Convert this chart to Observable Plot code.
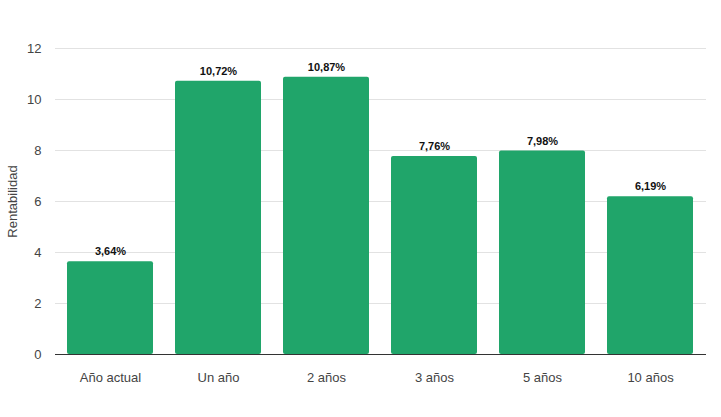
<!DOCTYPE html>
<html>
<head>
<meta charset="utf-8">
<script src="https://cdn.jsdelivr.net/npm/d3@7"></script>
<script src="https://cdn.jsdelivr.net/npm/@observablehq/plot@0.6"></script>
<style>
  html, body { margin: 0; padding: 0; background: #fff; }
  #chart svg { display: block; }
</style>
</head>
<body>
<div id="chart"></div>
<script>
const categories = ["Año actual", "Un año", "2 años", "3 años", "5 años", "10 años"];
const values = [3.64, 10.72, 10.87, 7.76, 7.98, 6.19];
const valueLabels = ["3,64%", "10,72%", "10,87%", "7,76%", "7,98%", "6,19%"];
const yTicks = [0, 2, 4, 6, 8, 10, 12];
const yTitle = "Rentabilidad";

const data = categories.map((c, i) => ({category: c, value: values[i], label: valueLabels[i]}));

const chart = Plot.plot({
  width: 721,
  height: 417,
  marginTop: 48,
  marginBottom: 63,
  marginLeft: 55,
  marginRight: 15,
  style: {fontFamily: "Arial, 'Liberation Sans', sans-serif", fontSize: "13px", color: "#444", background: "#fff"},
  x: {domain: categories, paddingInner: 0.2, paddingOuter: 0.1, label: null, tickSize: 0, tickPadding: 18},
  y: {domain: [0, 12], ticks: yTicks, label: yTitle, labelAnchor: "center", labelArrow: false, labelOffset: 48, tickSize: 0, tickPadding: 14},
  marks: [
    Plot.gridY(yTicks, {stroke: "#e2e2e2", strokeOpacity: 1}),
    Plot.barY(data, {x: "category", y: "value", fill: "#20a56a", rx: 2}),
    Plot.ruleY([0], {stroke: "#333", strokeWidth: 1.2}),
    Plot.text(data, {x: "category", y: "value", text: "label", dy: -10, fontWeight: "bold", fontSize: 11, fill: "#111"})
  ]
});
document.getElementById("chart").appendChild(chart);
</script>
</body>
</html>
